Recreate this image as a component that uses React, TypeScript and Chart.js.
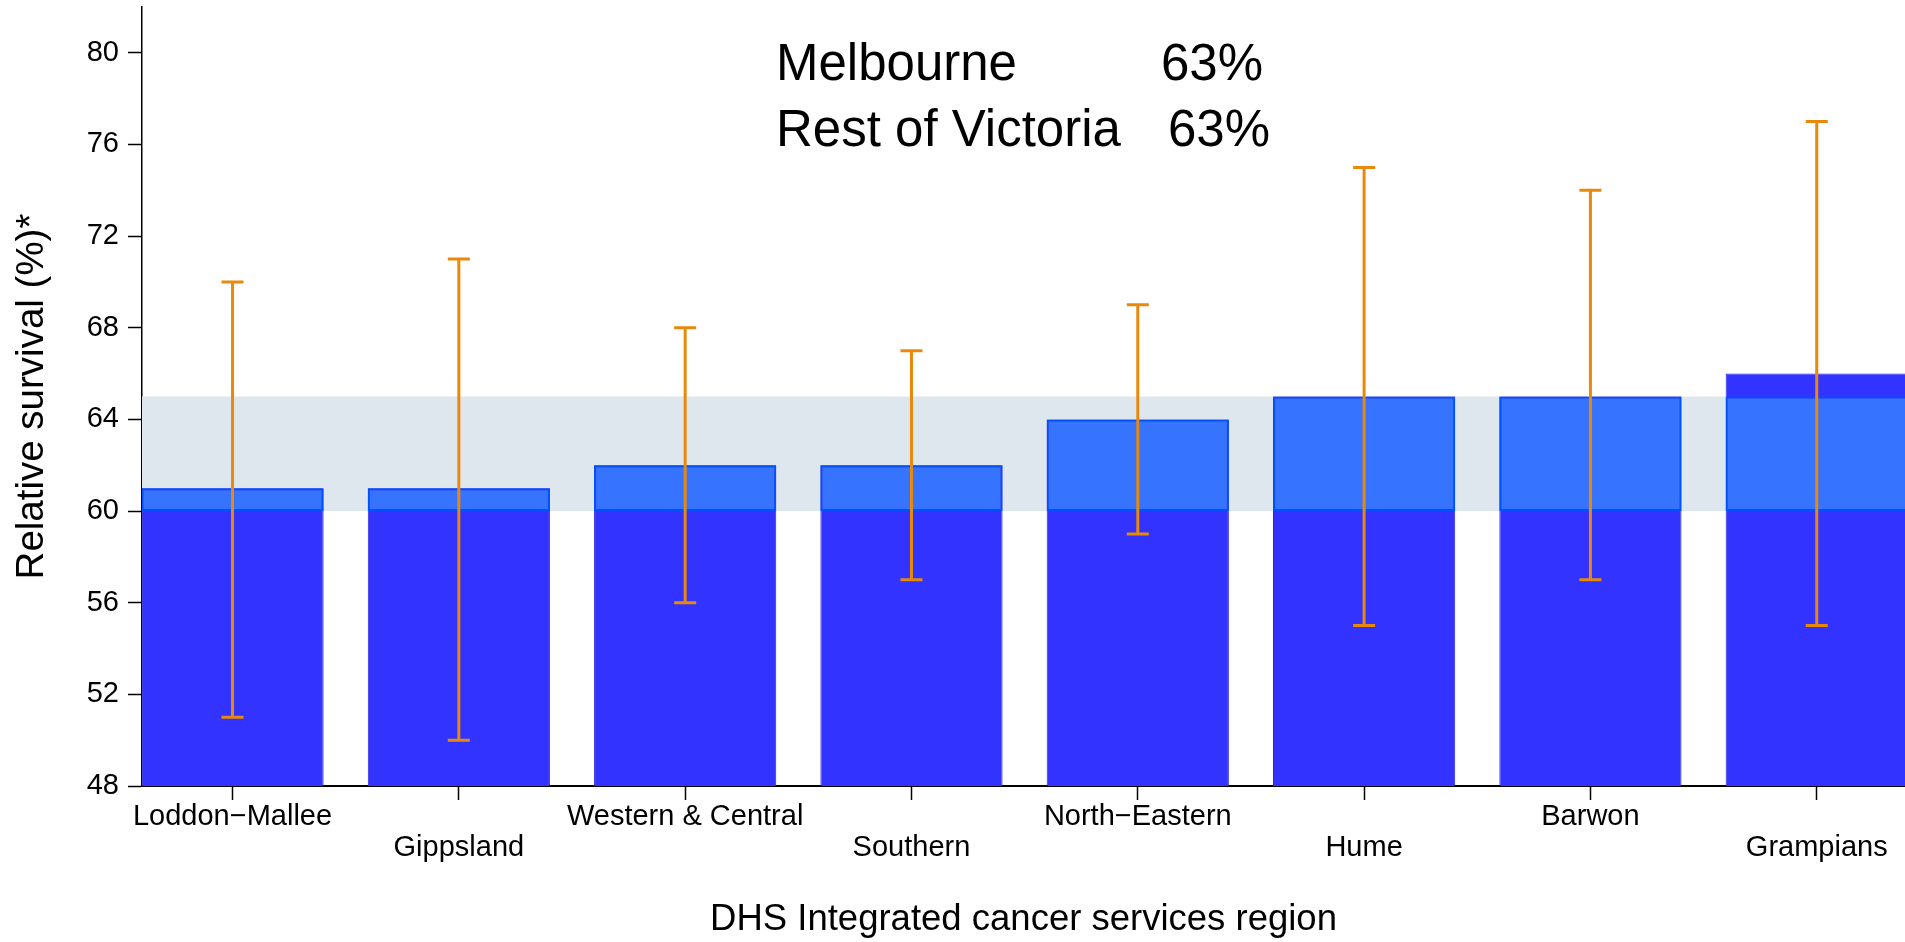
import React, { useEffect, useRef } from 'react';
import { Chart, registerables } from 'chart.js';

Chart.register(...registerables);

// ---- data ----
const categories = [
  'Loddon−Mallee',
  'Gippsland',
  'Western & Central',
  'Southern',
  'North−Eastern',
  'Hume',
  'Barwon',
  'Grampians',
];
const survival = [61, 61, 62, 62, 64, 65, 65, 66];
const ciLower = [51, 50, 56, 57, 59, 55, 57, 55];
const ciUpper = [70, 71, 68, 67, 69, 75, 74, 77];
const statewideBand = [60, 65];
const yAxisRange = [48, 82];
const yTickStep = 4;
const summaryLabels = ['Melbourne', 'Rest of Victoria'];
const summaryValues = ['63%', '63%'];
const xAxisTitle = 'DHS Integrated cancer services region';
const yAxisTitle = 'Relative survival (%)*';

const FONT = '"Liberation Sans", Arial, Helvetica, sans-serif';

export default function App() {
  const ref = useRef<HTMLCanvasElement>(null);

  useEffect(() => {
    const canvas = ref.current;
    if (!canvas) return;

    const bandPlugin = {
      id: 'band',
      beforeDatasetsDraw(chart: any) {
        const { ctx, chartArea, scales } = chart;
        const y = scales.y;
        const top = y.getPixelForValue(statewideBand[1]);
        const bottom = y.getPixelForValue(statewideBand[0]);
        ctx.save();
        ctx.fillStyle = '#DFE7EE';
        ctx.fillRect(chartArea.left, top, chartArea.right - chartArea.left, bottom - top);
        ctx.restore();
      },
    };

    const errorPlugin = {
      id: 'errorBars',
      afterDatasetsDraw(chart: any) {
        const { ctx, scales } = chart;
        const x = scales.x;
        const y = scales.y;
        ctx.save();
        ctx.strokeStyle = '#E8890C';
        ctx.lineWidth = 3;
        const cap = 11;
        categories.forEach((_, i) => {
          const px = x.getPixelForValue(i);
          const lo = y.getPixelForValue(ciLower[i]);
          const hi = y.getPixelForValue(ciUpper[i]);
          ctx.beginPath();
          ctx.moveTo(px, lo);
          ctx.lineTo(px, hi);
          ctx.moveTo(px - cap, lo);
          ctx.lineTo(px + cap, lo);
          ctx.moveTo(px - cap, hi);
          ctx.lineTo(px + cap, hi);
          ctx.stroke();
        });
        ctx.restore();
      },
    };

    const summaryPlugin = {
      id: 'summary',
      afterDraw(chart: any) {
        const { ctx } = chart;
        ctx.save();
        ctx.fillStyle = '#000';
        ctx.font = `51px ${FONT}`;
        ctx.textBaseline = 'alphabetic';
        ctx.textAlign = 'left';
        const labelX = 776;
        const valueX = [1161, 1168];
        const baselines = [80, 146];
        summaryLabels.forEach((lab, i) => {
          ctx.fillText(lab, labelX, baselines[i]);
          ctx.fillText(summaryValues[i], valueX[i], baselines[i]);
        });
        ctx.restore();
      },
    };

    const inBand = survival.map((v, i) => ({
      x: i,
      y: [statewideBand[0], Math.min(v, statewideBand[1])],
    }));
    const full = survival.map((v, i) => ({ x: i, y: v }));

    const chart = new Chart(canvas, {
      type: 'bar',
      data: {
        datasets: [
          {
            data: inBand as any,
            backgroundColor: '#3673FF',
            borderColor: '#0050FF',
            borderWidth: 2,
            borderSkipped: false,
            grouped: false,
            categoryPercentage: 0.805,
            barPercentage: 1,
          } as any,
          {
            data: full as any,
            backgroundColor: '#3333FF',
            borderColor: '#2525E6',
            borderWidth: 1,
            grouped: false,
            categoryPercentage: 0.805,
            barPercentage: 1,
          } as any,
        ],
      },
      options: {
        responsive: false,
        animation: false,
        layout: { padding: { top: 7, right: 0, left: 0, bottom: 0 } },
        plugins: {
          legend: { display: false },
          tooltip: { enabled: false },
        },
        scales: {
          x: {
            type: 'linear',
            min: -0.4,
            max: 7.39,
            offset: false,
            afterFit(scale: any) {
              scale.height = 156;
              scale.paddingLeft = 0;
              scale.paddingRight = 0;
            },
            border: { display: true, color: '#000', width: 2 },
            grid: {
              offset: false,
              drawOnChartArea: false,
              drawTicks: true,
              tickLength: 14,
              color: '#000',
              tickWidth: 1.5,
            },
            ticks: {
              stepSize: 1,
              includeBounds: false,
              autoSkip: false,
              maxRotation: 0,
              minRotation: 0,
              padding: 2,
              color: '#000',
              font: { family: FONT, size: 29, lineHeight: 1.06 },
              callback: (value: any) => {
                const i = Math.round(Number(value));
                const lab = categories[i];
                if (lab === undefined) return '';
                return i % 2 === 1 ? ['', lab] : lab;
              },
            },
            title: {
              display: true,
              text: xAxisTitle,
              color: '#000',
              font: { family: FONT, size: 36.5, lineHeight: 1.2 },
              padding: { top: 0, bottom: 0 },
            },
          } as any,
          y: {
            type: 'linear',
            min: yAxisRange[0],
            max: yAxisRange[1],
            afterFit(scale: any) {
              scale.width = 142;
              scale.paddingTop = 0;
              scale.paddingBottom = 0;
            },
            border: { display: true, color: '#000', width: 1.5 },
            grid: {
              drawOnChartArea: false,
              drawTicks: true,
              tickLength: 14,
              color: '#000',
              tickWidth: 1.5,
            },
            ticks: {
              stepSize: yTickStep,
              includeBounds: false,
              padding: 9,
              color: '#000',
              font: { family: FONT, size: 29 },
            },
            title: {
              display: true,
              text: yAxisTitle,
              color: '#000',
              font: { family: FONT, size: 38.5, lineHeight: 1.2 },
              padding: { top: 9, bottom: 0 },
            },
          } as any,
        },
      },
      plugins: [bandPlugin, errorPlugin, summaryPlugin],
    });

    return () => {
      chart.destroy();
    };
  }, []);

  return (
    <div style={{ position: 'fixed', left: 0, top: 0, width: 1905, height: 942, background: '#fff' }}>
      <canvas ref={ref} width={1905} height={942} style={{ display: 'block' }} />
    </div>
  );
}
